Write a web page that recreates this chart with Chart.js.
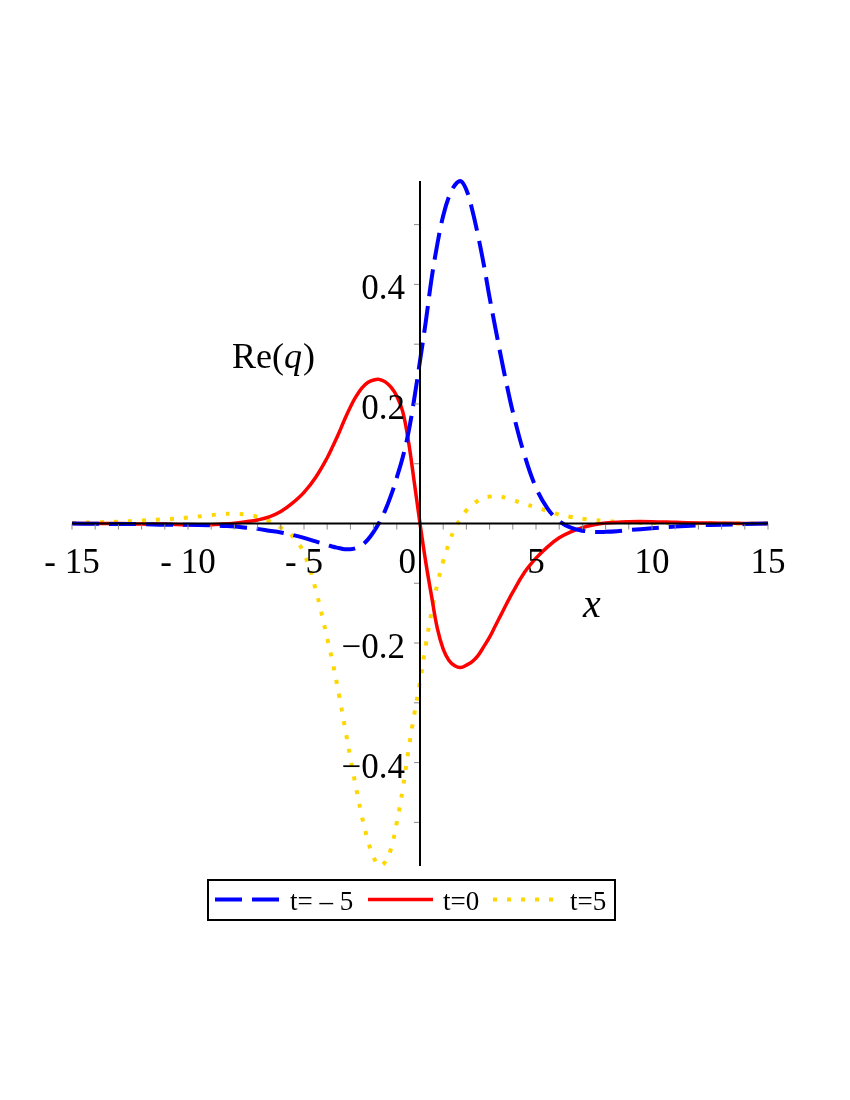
<!DOCTYPE html>
<html>
<head>
<meta charset="utf-8">
<script src="https://cdn.jsdelivr.net/npm/chart.js@4.4.0/dist/chart.umd.min.js"></script>
<style>
  body { margin: 0; background: #fff; }
  #wrap { width: 850px; height: 1100px; }
</style>
</head>
<body>
<div id="wrap"><canvas id="plot" width="850" height="1100"></canvas></div>
<script>
// x grid shared by the three curves
var xs = [-15, -14, -13, -12, -11, -10, -9, -8.5, -8, -7.5, -7, -6.5, -6, -5.5, -5, -4.5, -4,
  -3.75, -3.5, -3.25, -3, -2.75, -2.5, -2.25, -2, -1.75, -1.5, -1.25, -1, -0.75, -0.5, -0.25, 0,
  0.25, 0.5, 0.75, 1, 1.25, 1.5, 1.75, 2, 2.25, 2.5, 2.75, 3, 3.25, 3.5, 3.75, 4,
  4.5, 5, 5.5, 6, 6.5, 7, 7.5, 8, 8.5, 9, 10, 11, 12, 13, 14, 15];

// Re(q) at t=-5
var qTm5 = [0, -0.0005, -0.001, -0.001, -0.002, -0.002, -0.003, -0.004, -0.005, -0.007, -0.009, -0.012, -0.015, -0.019, -0.024, -0.030, -0.036,
  -0.039, -0.041, -0.043, -0.043, -0.041, -0.036, -0.027, -0.014, 0.002, 0.022, 0.047, 0.077, 0.11, 0.152, 0.208, 0.272,
  0.338, 0.41, 0.468, 0.515, 0.547, 0.566, 0.573, 0.558, 0.525, 0.482, 0.433, 0.378, 0.327, 0.277, 0.230, 0.187,
  0.115, 0.06, 0.025, 0.004, -0.007, -0.012, -0.014, -0.014, -0.013, -0.011, -0.008, -0.005, -0.003, -0.002, -0.001, 0];

// Re(q) at t=0
var qT0 = [0, 0, 0, -0.001, -0.001, -0.002, -0.002, -0.001, 0.0005, 0.003, 0.006, 0.011, 0.02, 0.034, 0.052, 0.077, 0.11,
  0.13, 0.151, 0.174, 0.195, 0.213, 0.227, 0.236, 0.240, 0.241, 0.237, 0.228, 0.213, 0.188, 0.138, 0.07, 0,
  -0.065, -0.122, -0.176, -0.21, -0.229, -0.238, -0.241, -0.237, -0.231, -0.221, -0.206, -0.19, -0.171, -0.152, -0.133, -0.115,
  -0.082, -0.058, -0.039, -0.024, -0.014, -0.007, -0.002, 0.001, 0.002, 0.003, 0.003, 0.002, 0.001, 0.0005, 0, 0];

// Re(q) at t=5
var qT5 = [0.001, 0.002, 0.003, 0.005, 0.007, 0.010, 0.014, 0.016, 0.016, 0.015, 0.011, 0.004, -0.007, -0.021, -0.05, -0.11, -0.192,
  -0.235, -0.285, -0.338, -0.392, -0.443, -0.491, -0.53, -0.558, -0.573, -0.566, -0.544, -0.50, -0.446, -0.38, -0.32, -0.265,
  -0.203, -0.148, -0.101, -0.063, -0.033, -0.008, 0.008, 0.022, 0.031, 0.038, 0.043, 0.045, 0.046, 0.045, 0.042, 0.039,
  0.033, 0.027, 0.021, 0.015, 0.011, 0.008, 0.006, 0.004, 0.003, 0.002, 0.001, 0.001, 0, 0, 0, 0];

var seriesNames = ['t= \u2013 5', 't=0', 't=5'];

var xTickValues = [-15, -10, -5, 0, 5, 10, 15];
var xTickLabels = ['- 15', '- 10', '- 5', '0', '5', '10', '15'];
var yTickValues = [-0.4, -0.2, 0.2, 0.4];
var yTickLabels = ['\u22120.4', '\u22120.2', '0.2', '0.4'];

function pts(ys) {
  return xs.map(function (x, i) { return { x: x, y: ys[i] }; });
}

var serif = '"Liberation Serif", "DejaVu Serif", serif';

// Maple style axes through the origin, ticks, labels and boxed legend
var mapleAxes = {
  id: 'mapleAxes',
  afterDatasetsDraw: function (chart) {
    var ctx = chart.ctx;
    var a = chart.chartArea;
    var sx = chart.scales.x, sy = chart.scales.y;
    var x0 = sx.getPixelForValue(0), y0 = sy.getPixelForValue(0);
    ctx.save();

    // minor ticks
    ctx.strokeStyle = '#8a8a8a';
    ctx.lineWidth = 1;
    ctx.beginPath();
    for (var i = -15; i <= 15; i++) {
      var px = sx.getPixelForValue(i);
      ctx.moveTo(px, y0);
      ctx.lineTo(px, y0 + 6);
    }
    for (var j = -5; j <= 5; j++) {
      if (j === 0) continue;
      var py = sy.getPixelForValue(j / 10);
      ctx.moveTo(x0 - 6, py);
      ctx.lineTo(x0, py);
    }
    ctx.stroke();

    // axis lines
    ctx.strokeStyle = '#000';
    ctx.lineWidth = 2;
    ctx.beginPath();
    ctx.moveTo(a.left, y0);
    ctx.lineTo(a.right, y0);
    ctx.moveTo(x0, a.top);
    ctx.lineTo(x0, a.bottom);
    ctx.stroke();

    // tick labels
    ctx.fillStyle = '#000';
    ctx.font = '35px ' + serif;
    ctx.textBaseline = 'alphabetic';
    xTickValues.forEach(function (v, k) {
      if (v === 0) {
        ctx.textAlign = 'right';
        ctx.fillText(xTickLabels[k], x0 - 4, y0 + 49);
      } else {
        ctx.textAlign = 'center';
        ctx.fillText(xTickLabels[k], sx.getPixelForValue(v), y0 + 49);
      }
    });
    ctx.textAlign = 'right';
    yTickValues.forEach(function (v, k) {
      ctx.fillText(yTickLabels[k], x0 - 15, sy.getPixelForValue(v) + 15);
    });

    // axis titles
    ctx.textAlign = 'left';
    ctx.font = '36px ' + serif;
    var tx = 232, ty = 368;
    ctx.fillText('Re(', tx, ty);
    tx += ctx.measureText('Re(').width;
    ctx.font = 'italic 36px ' + serif;
    ctx.fillText('q', tx, ty);
    tx += ctx.measureText('q').width + 1;
    ctx.font = '36px ' + serif;
    ctx.fillText(')', tx, ty);
    ctx.font = 'italic 40px ' + serif;
    ctx.fillText('x', 583, 617);

    // legend
    ctx.lineWidth = 2;
    ctx.strokeStyle = '#000';
    ctx.strokeRect(208, 880, 407, 40);
    var items = [[215, 280, 290], [368, 433, 443], [493, 553, 570]];
    ctx.font = '27px ' + serif;
    chart.data.datasets.forEach(function (ds, k) {
      var it = items[k];
      ctx.save();
      ctx.strokeStyle = ds.borderColor;
      ctx.lineWidth = ds.borderWidth;
      ctx.setLineDash(ds.borderDash || []);
      ctx.beginPath();
      ctx.moveTo(it[0], 899.5);
      ctx.lineTo(it[1], 899.5);
      ctx.stroke();
      ctx.restore();
      ctx.fillText(seriesNames[k], it[2], 910);
    });
    ctx.restore();
  }
};

var chart = new Chart(document.getElementById('plot'), {
  type: 'line',
  data: {
    datasets: [
      {
        label: seriesNames[0],
        data: pts(qTm5),
        borderColor: '#0000ff',
        borderWidth: 4,
        borderDash: [27, 10],
        borderCapStyle: 'butt'
      },
      {
        label: seriesNames[1],
        data: pts(qT0),
        borderColor: '#ff0000',
        borderWidth: 3.5
      },
      {
        label: seriesNames[2],
        data: pts(qT5),
        borderColor: '#ffd700',
        borderWidth: 4,
        borderDash: [4, 10],
        borderCapStyle: 'butt'
      }
    ]
  },
  options: {
    responsive: false,
    animation: false,
    layout: { padding: { left: 72, right: 82, top: 181, bottom: 234 } },
    elements: {
      point: { radius: 0 },
      line: { tension: 0.4, fill: false }
    },
    datasets: { line: { clip: 8 } },
    scales: {
      x: { type: 'linear', min: -15, max: 15, display: false },
      y: { type: 'linear', min: -0.573, max: 0.573, display: false }
    },
    plugins: {
      legend: { display: false },
      tooltip: { enabled: false }
    }
  },
  plugins: [mapleAxes]
});
</script>
</body>
</html>
